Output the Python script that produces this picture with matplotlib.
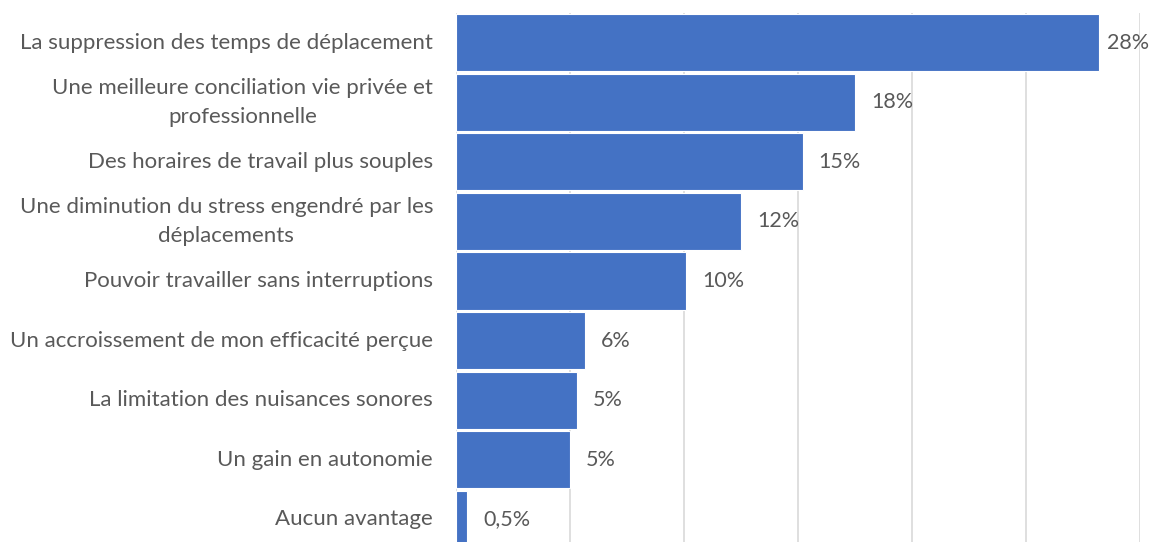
import matplotlib.pyplot as plt

plt.rcParams['font.family'] = ['Lato', 'DejaVu Sans']

categories = [
    "La suppression des temps de déplacement",
    "Une meilleure conciliation vie privée et\nprofessionnelle",
    "Des horaires de travail plus souples",
    "Une diminution du stress engendré par les\ndéplacements",
    "Pouvoir travailler sans interruptions",
    "Un accroissement de mon efficacité perçue",
    "La limitation des nuisances sonores",
    "Un gain en autonomie",
    "Aucun avantage",
]
values = [28.2, 17.5, 15.2, 12.5, 10.1, 5.66, 5.3, 5.0, 0.48]
value_labels = ["28%", "18%", "15%", "12%", "10%", "6%", "5%", "5%", "0,5%"]

text_color = "#595959"
bar_color = "#4472C4"

fig = plt.figure(figsize=(11.56, 5.42), dpi=100)
ax = fig.add_axes([456 / 1156, -7 / 542, 684 / 1156, 536 / 542])

y = list(range(len(categories)))
ax.barh(y, values, height=0.96, color=bar_color, edgecolor="white", linewidth=0.8, zorder=3)

ax.set_xlim(0, 30)
ax.set_ylim(len(categories) - 0.5, -0.5)
ax.set_xticks([0, 5, 10, 15, 20, 25, 30])
ax.set_xticklabels([])
ax.tick_params(axis="x", length=0)
ax.tick_params(axis="y", length=0, pad=16.5)
ax.grid(axis="x", color="#d9d9d9", linewidth=1.2, zorder=0)
for s in ax.spines.values():
    s.set_visible(False)

ax.set_yticks(y)
ax.set_yticklabels(categories, fontsize=16, color=text_color, multialignment="center",
                   linespacing=1.55, va="center")

# étiquettes de valeurs
for i, (v, lab) in enumerate(zip(values, value_labels)):
    off = 8 if i == 0 else 16
    ax.annotate(lab, (v, i), xytext=(off, 0), textcoords="offset pixels",
                va="center", ha="left", fontsize=15.5, color=text_color)

fig.savefig("out.png", dpi=100)
